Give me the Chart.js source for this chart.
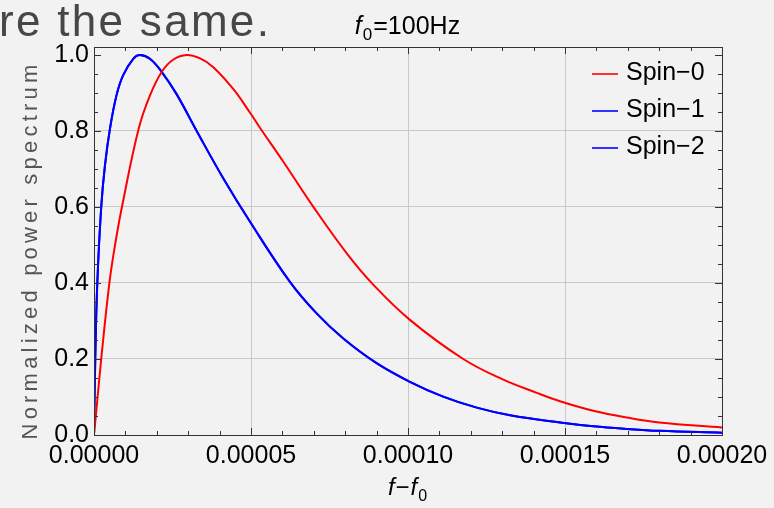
<!DOCTYPE html>
<html>
<head>
<meta charset="utf-8">
<script src="https://cdn.jsdelivr.net/npm/chart.js@4/dist/chart.umd.min.js"></script>
<style>
  html, body { margin: 0; padding: 0; background: #f2f2f2; }
  #wrap { position: relative; width: 774px; height: 508px; }
</style>
</head>
<body>
<div id="wrap"><canvas id="c" width="774" height="508"></canvas></div>
<script>
// ---- data ----
const seriesLabels = ['Spin\u22120', 'Spin\u22121', 'Spin\u22122'];

const spin0F = [0, 8.6e-7, 2.3e-6, 4.9e-6, 6.7e-6, 8.9e-6, 1.42e-5, 1.78e-5, 2.17e-5, 2.53e-5, 2.95e-5,
  3.38e-5, 3.8e-5, 4.44e-5, 4.97e-5, 5.29e-5, 6.03e-5, 6.98e-5, 8.05e-5, 8.9e-5, 1.006e-4,
  1.176e-4, 1.30e-4, 1.41e-4, 1.484e-4, 1.59e-4, 1.697e-4, 1.80e-4, 2.0e-4];
const spin0Values = [0, 0.075, 0.2, 0.4, 0.5, 0.6, 0.805, 0.893, 0.957, 0.988, 1.0,
  0.991, 0.968, 0.91, 0.848, 0.808, 0.719, 0.601, 0.478, 0.395, 0.303,
  0.2, 0.147, 0.111, 0.089, 0.064, 0.046, 0.033, 0.02];

const spin1F = [0, 4e-7, 1.05e-6, 2.3e-6, 3.5e-6, 5.1e-6, 7.2e-6, 9.3e-6, 1.25e-5, 1.46e-5, 1.78e-5,
  2.16e-5, 2.63e-5, 3.27e-5, 4.12e-5, 4.97e-5, 6.24e-5, 7.09e-5, 7.94e-5, 9.0e-5, 1.006e-4,
  1.112e-4, 1.219e-4, 1.325e-4, 1.484e-4, 1.59e-4, 1.697e-4, 1.80e-4, 2.0e-4];
const spin1Values = [0, 0.2, 0.4, 0.6, 0.71, 0.807, 0.895, 0.947, 0.99, 1.0, 0.99,
  0.955, 0.897, 0.8, 0.675, 0.561, 0.403, 0.320, 0.254, 0.189, 0.14,
  0.101, 0.072, 0.052, 0.033, 0.023, 0.016, 0.011, 0.006];

const spin2F = [0, 4e-7, 1.05e-6, 2.3e-6, 3.5e-6, 5.1e-6, 7.2e-6, 9.3e-6, 1.25e-5, 1.46e-5, 1.78e-5,
  2.16e-5, 2.63e-5, 3.27e-5, 4.12e-5, 4.97e-5, 6.24e-5, 7.09e-5, 7.94e-5, 9.0e-5, 1.006e-4,
  1.112e-4, 1.219e-4, 1.325e-4, 1.484e-4, 1.59e-4, 1.697e-4, 1.80e-4, 2.0e-4];
const spin2Values = [0, 0.2, 0.4, 0.6, 0.71, 0.807, 0.895, 0.947, 0.99, 1.0, 0.99,
  0.955, 0.897, 0.8, 0.675, 0.561, 0.403, 0.320, 0.254, 0.189, 0.14,
  0.101, 0.072, 0.052, 0.033, 0.023, 0.016, 0.011, 0.006];

const xTickValues = [0, 0.00005, 0.0001, 0.00015, 0.0002];
const yTickValues = [0, 0.2, 0.4, 0.6, 0.8, 1.0];
const slideText = 're the same.';
const yAxisTitle = 'Normalized power spectrum';

// ---- chart ----
const FONT = '"Liberation Sans", Arial, sans-serif';
const colors = ['#ff0000', '#0000ff', '#0000ff'];
const pts = (xs, ys) => xs.map((x, i) => ({ x: x, y: ys[i] }));

const decor = {
  id: 'decor',
  beforeDraw(chart) {
    const ctx = chart.ctx;
    ctx.save();
    ctx.fillStyle = '#f2f2f2';
    ctx.fillRect(0, 0, chart.width, chart.height);
    ctx.restore();
  },
  afterDraw(chart) {
    const { ctx, chartArea: a, scales } = chart;
    const xs = scales.x, ys = scales.y;
    ctx.save();
    // frame
    ctx.strokeStyle = '#333';
    ctx.lineWidth = 1;
    ctx.strokeRect(Math.round(a.left) + 0.5, Math.round(a.top) + 0.5,
                   Math.round(a.right - a.left), Math.round(a.bottom - a.top));
    // inward ticks on all four sides
    ctx.beginPath();
    for (let i = 0; i <= 20; i++) {
      const v = i * 0.00001;
      const len = (i % 5 === 0) ? 7 : 4;
      const px = Math.round(xs.getPixelForValue(v)) + 0.5;
      ctx.moveTo(px, a.bottom); ctx.lineTo(px, a.bottom - len);
      ctx.moveTo(px, a.top); ctx.lineTo(px, a.top + len);
    }
    for (let i = 0; i <= 20; i++) {
      const v = i * 0.05;
      const len = (i % 4 === 0) ? 7 : 4;
      const py = Math.round(ys.getPixelForValue(v)) + 0.5;
      ctx.moveTo(a.left, py); ctx.lineTo(a.left + len, py);
      ctx.moveTo(a.right, py); ctx.lineTo(a.right - len, py);
    }
    ctx.stroke();

    // legend
    chart.data.datasets.forEach((ds, i) => {
      const ly = a.top + 27 + i * 37;
      ctx.strokeStyle = ds.borderColor;
      ctx.lineWidth = 1.6;
      ctx.beginPath();
      ctx.moveTo(592, ly); ctx.lineTo(618, ly);
      ctx.stroke();
      ctx.fillStyle = '#000';
      ctx.font = '25px ' + FONT;
      ctx.textAlign = 'left';
      ctx.textBaseline = 'alphabetic';
      ctx.fillText(ds.label, 626, ly + 6);
    });

    // slide fragment text
    ctx.fillStyle = '#474747';
    ctx.font = '44px ' + FONT;
    ctx.textAlign = 'left';
    ctx.letterSpacing = '2.3px';
    ctx.fillText(slideText, -1, 36);
    ctx.letterSpacing = '0px';

    const cx = (a.left + a.right) / 2;
    // title f0=100Hz
    drawSubText(ctx, [['f', 'italic 25px ' + FONT, 0], ['0', '17px ' + FONT, 6], ['=100Hz', '25px ' + FONT, 0]], cx, 34);
    // x axis title f-f0
    drawSubText(ctx, [['f', 'italic 24px ' + FONT, 0], ['\u2212', '24px ' + FONT, 0], ['f', 'italic 24px ' + FONT, 0], ['0', '16px ' + FONT, 6]], cx, 495);

    // y axis title
    ctx.save();
    ctx.translate(37, 252);
    ctx.rotate(-Math.PI / 2);
    ctx.fillStyle = '#555';
    ctx.font = '22px ' + FONT;
    ctx.letterSpacing = '4.2px';
    ctx.textAlign = 'center';
    ctx.fillText(yAxisTitle, 2, 0);
    ctx.restore();
    ctx.restore();
  }
};

function drawSubText(ctx, parts, cx, base) {
  let total = 0;
  parts.forEach(p => { ctx.font = p[1]; total += ctx.measureText(p[0]).width + 1; });
  let x = cx - total / 2;
  ctx.fillStyle = '#000';
  ctx.textAlign = 'left';
  parts.forEach(p => {
    ctx.font = p[1];
    ctx.fillText(p[0], x, base + p[2]);
    x += ctx.measureText(p[0]).width + 1;
  });
}

new Chart(document.getElementById('c'), {
  type: 'line',
  data: {
    datasets: [
      { label: seriesLabels[0], data: pts(spin0F, spin0Values) },
      { label: seriesLabels[1], data: pts(spin1F, spin1Values) },
      { label: seriesLabels[2], data: pts(spin2F, spin2Values) }
    ].map((d, i) => Object.assign(d, {
      borderColor: colors[i], backgroundColor: colors[i], borderWidth: 2,
      pointRadius: 0, tension: 0.4, fill: false
    }))
  },
  options: {
    responsive: false,
    animation: false,
    events: [],
    layout: { padding: { top: 47, right: 52, left: 0, bottom: 0 } },
    plugins: { legend: { display: false }, tooltip: { enabled: false }, title: { display: false } },
    scales: {
      x: {
        type: 'linear', min: 0, max: 0.0002,
        afterBuildTicks: s => { s.ticks = xTickValues.map(v => ({ value: v })); },
        afterFit: s => { s.height = 73; },
        ticks: { color: '#000', font: { family: FONT, size: 25 }, padding: 6, maxRotation: 0,
                 callback: v => Number(v).toFixed(5) },
        grid: { drawTicks: false, color: c => (c.tick && c.tick.value > 0 && c.tick.value < 0.0002) ? '#c9c9c9' : 'rgba(0,0,0,0)' },
        border: { display: false }
      },
      y: {
        type: 'linear', min: 0, max: 1.021,
        afterBuildTicks: s => { s.ticks = yTickValues.map(v => ({ value: v })); },
        afterFit: s => { s.width = 94; },
        ticks: { color: '#000', font: { family: FONT, size: 25 }, padding: 5,
                 callback: v => Number(v).toFixed(1) },
        grid: { drawTicks: false, color: c => (c.tick && c.tick.value > 0 && c.tick.value < 1) ? '#c9c9c9' : 'rgba(0,0,0,0)' },
        border: { display: false }
      }
    }
  },
  plugins: [decor]
});
</script>
</body>
</html>
